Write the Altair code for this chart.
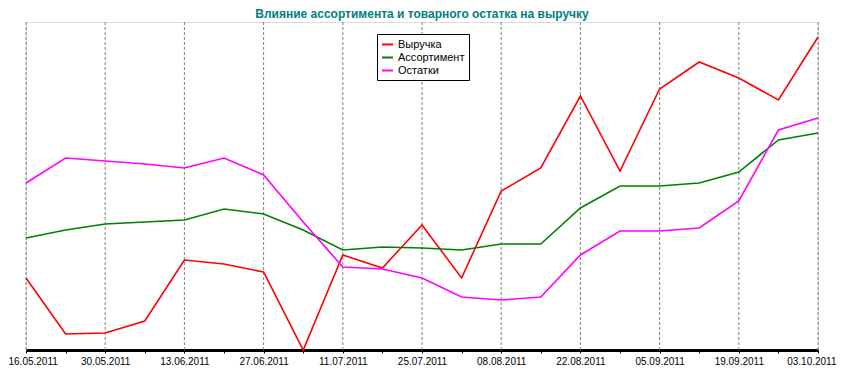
import altair as alt
import pandas as pd

# ---- data (relative index values) ----
dates = ["2011-05-16", "2011-05-23", "2011-05-30", "2011-06-06", "2011-06-13",
         "2011-06-20", "2011-06-27", "2011-07-04", "2011-07-11", "2011-07-18",
         "2011-07-25", "2011-08-01", "2011-08-08", "2011-08-15", "2011-08-22",
         "2011-08-29", "2011-09-05", "2011-09-12", "2011-09-19", "2011-09-26",
         "2011-10-03"]
revenue = [72, 16, 17, 29, 90, 86, 78, 0, 95, 82, 125, 72, 159, 182, 254, 179,
           261, 288, 272, 250, 313]
assortment = [112, 120, 126, 128, 130, 141, 136, 120, 100, 103, 102, 100, 106,
              106, 142, 164, 164, 167, 178, 210, 217]
stock = [167, 192, 189, 186, 182, 192, 175, 128, 83, 81, 72, 53, 50, 53, 95,
         119, 119, 122, 149, 220, 232]
series_names = ["Выручка", "Ассортимент", "Остатки"]
series_colors = ["#FF0000", "#008000", "#FF00FF"]
label_dates = dates[::2]
title_text = "Влияние ассортимента и товарного остатка на выручку"

rows = []
for name, vals in zip(series_names, [revenue, assortment, stock]):
    for d, v in zip(dates, vals):
        rows.append({"date": d, "series": name, "value": v})
df = pd.DataFrame(rows)
grid_df = pd.DataFrame({"date": label_dates})


def dt(s):
    y, m, d = (int(p) for p in s.split("-"))
    return alt.DateTime(year=y, month=m, date=d, utc=True)


t0 = pd.Timestamp(dates[0], tz="UTC").value // 10**6
label_expr = (f"(round((datum.value - {t0}) / 604800000) % 2 == 0) ? "
              "utcFormat(datum.value, '%d.%m.%Y') : ''")

x_enc = alt.X(
    "date:T", title=None,
    scale=alt.Scale(type="utc", nice=False),
    axis=alt.Axis(values=[dt(d) for d in dates], labelExpr=label_expr,
                  tickSize=3, tickColor="black", tickWidth=1,
                  domainColor="black", domainWidth=3,
                  labelFont="Liberation Sans", labelFontSize=10,
                  labelColor="black", labelPadding=3, grid=False,
                  labelOverlap=False, labelFlush=True, labelFlushOffset=18),
)

grid = alt.Chart(grid_df).mark_rule(
    color="#808080", strokeDash=[3, 2], strokeWidth=1
).encode(x=x_enc)

shadow = alt.Chart(pd.DataFrame({"a": [0]})).mark_rect(color="black").encode(
    x=alt.value(354), x2=alt.value(441), y=alt.value(15), y2=alt.value(58)
)

lines = alt.Chart(df).mark_line(strokeWidth=1.6).encode(
    x=x_enc,
    y=alt.Y("value:Q", scale=alt.Scale(domain=[0, 328], nice=False, zero=False),
            axis=None),
    color=alt.Color(
        "series:N",
        scale=alt.Scale(domain=series_names, range=series_colors),
        legend=alt.Legend(
            title=None, orient="none", legendX=351, legendY=12,
            fillColor="white", strokeColor="black", padding=4,
            symbolType="stroke", symbolSize=121, symbolStrokeWidth=2,
            labelFont="Liberation Sans", labelFontSize=11, labelColor="black",
            rowPadding=1, labelOffset=4,
        ),
    ),
    order=alt.value(0),
)

chart = alt.layer(grid, shadow, lines).properties(
    width=792, height=328,
    padding={"left": 18, "top": 14, "right": 19, "bottom": 22},
    autosize="none",
    title=alt.TitleParams(
        text=title_text, color="#008080", font="Liberation Sans",
        fontSize=12, fontWeight="bold", anchor="middle", frame="group",
        baseline="alphabetic", offset=-8,
    ),
).configure_view(stroke=None).configure(background="white")

chart.save("out.html", embed_options={"renderer": "svg", "actions": False})
